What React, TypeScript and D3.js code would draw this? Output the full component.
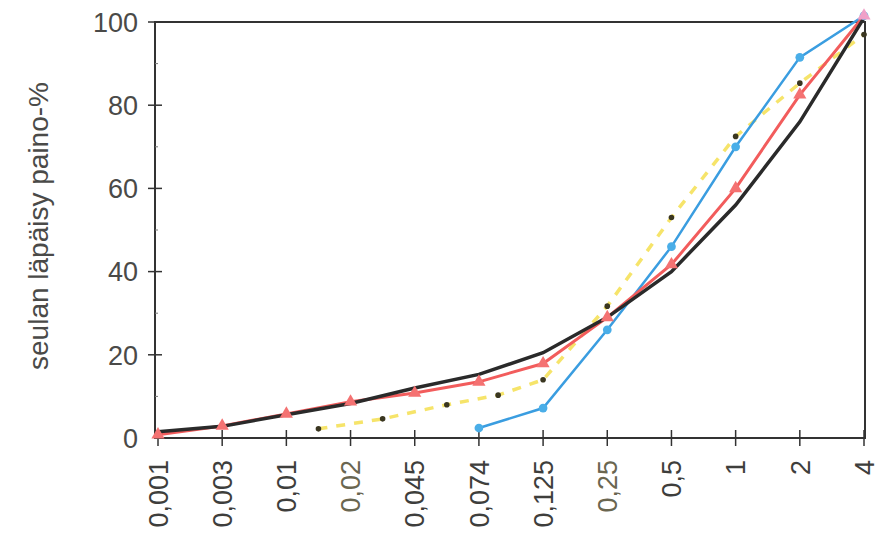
import React from 'react';
import * as d3 from 'd3';

// seulakoot (mm) x-akselilla
const sieves = ["0,001", "0,003", "0,01", "0,02", "0,045", "0,074", "0,125", "0,25", "0,5", "1", "2", "4"];
const yTicks = [0, 20, 40, 60, 80, 100];

// läpäisy-% kullakin seulalla
const blackValues = [1.5, 2.8, 5.6, 8.3, 12, 15.3, 20.5, 29, 40, 56, 76, 101];
const redValues = [0.8, 2.9, 5.8, 8.7, 10.8, 13.5, 17.9, 29, 41.7, 60, 82.5, 101.5];
// sininen alkaa vasta 0,074-seulalta
const blueStart = 5;
const blueValues = [2.4, 7.2, 26, 46, 70, 91.5, 101.5];
// keltainen katkoviiva: pisteet seulojen välissä (indeksi, arvo)
const yellowIdx = [2.5, 3.5, 4.5, 5.3, 6, 7, 8, 9, 10, 11];
const yellowValues = [2.2, 4.6, 8, 10.3, 14, 31.7, 53, 72.5, 85.3, 97];

const W = 880, H = 537;
const m = { left: 155, right: 865, top: 22, bottom: 438 };

export default function App() {
  const x = d3.scaleLinear().domain([0, sieves.length - 1]).range([158, 864]);
  const y = d3.scaleLinear().domain([0, 100]).range([m.bottom, m.top]);
  const line = d3.line<[number, number]>().x(d => x(d[0])).y(d => y(d[1]));

  const black: [number, number][] = blackValues.map((v, i) => [i, v]);
  const red: [number, number][] = redValues.map((v, i) => [i, v]);
  const blue: [number, number][] = blueValues.map((v, i) => [i + blueStart, v]);
  const yellow: [number, number][] = yellowValues.map((v, i) => [yellowIdx[i], v]);

  const tri = d3.symbol().type(d3.symbolTriangle).size(75)();
  const dot = d3.symbol().type(d3.symbolCircle).size(60)();
  const axisColor = '#333';
  const font = '"Liberation Sans", Arial, sans-serif';

  return (
    <div style={{ position: 'absolute', left: 0, top: 0 }}>
      <svg width={W} height={H} style={{ background: '#fff', display: 'block' }}>
        {/* kehys */}
        <rect x={m.left} y={m.top} width={m.right - m.left} height={m.bottom - m.top}
          fill="none" stroke={axisColor} strokeWidth={2} />

        {/* y-akseli */}
        {yTicks.map(t => (
          <g key={t}>
            {t > 0 && t < 100 && <line x1={m.left - 7} x2={m.left + 7} y1={y(t)} y2={y(t)} stroke={axisColor} strokeWidth={1.5} />}
            {t === 100 && <line x1={m.left - 7} x2={m.left} y1={y(t)} y2={y(t)} stroke={axisColor} strokeWidth={1.5} />}
            <text x={m.left - 17} y={y(t)} dy="0.36em" textAnchor="end" fontSize={27}
              fontFamily={font} fill="#4a4a48">{t}</text>
          </g>
        ))}
        {d3.range(10, 100, 20).map(t => (
          <line key={t} x1={m.left} x2={m.left + 3} y1={y(t)} y2={y(t)} stroke="#777" strokeWidth={1} />
        ))}
        <text transform={`translate(38,${(m.top + m.bottom) / 2 - 4}) rotate(-90)`} dy="0.36em" textAnchor="middle"
          fontSize={28} fontFamily={font} fill="#4a4a48">seulan läpäisy paino-%</text>

        {/* x-akseli */}
        {sieves.map((s, i) => (
          <g key={s}>
            <line x1={x(i)} x2={x(i)} y1={m.bottom - 8} y2={m.bottom + 8} stroke={axisColor} strokeWidth={1.5} />
            <text transform={`translate(${x(i)},${m.bottom + 22}) rotate(-90)`} dy="0.36em" textAnchor="end"
              fontSize={27} fontFamily={font} fill={s === '0,02' || s === '0,25' ? '#6a6650' : '#3e3e3c'}>{s}</text>
          </g>
        ))}

        {/* sarjat */}
        <path d={line(yellow) || ''} fill="none" stroke="#f6e46a" strokeWidth={3.5} strokeDasharray="9,9" />
        <path d={line(blue) || ''} fill="none" stroke="#3a9de0" strokeWidth={2.5} />
        <path d={line(red) || ''} fill="none" stroke="#f25c5c" strokeWidth={3} />
        <path d={line(black) || ''} fill="none" stroke="#2a2a2a" strokeWidth={3.5} />

        {yellow.map((d, i) => (
          <circle key={i} cx={x(d[0])} cy={y(d[1])} r={2.8} fill="#3a3620" />
        ))}
        {blue.map((d, i) => (
          <path key={i} d={dot || ''} transform={`translate(${x(d[0])},${y(d[1])})`} fill="#4aaee8" />
        ))}
        {red.map((d, i) => (
          <path key={i} d={tri || ''} transform={`translate(${x(d[0])},${y(d[1])})`}
            fill={i === red.length - 1 ? '#f0a0c8' : '#f47272'} />
        ))}
      </svg>
    </div>
  );
}
